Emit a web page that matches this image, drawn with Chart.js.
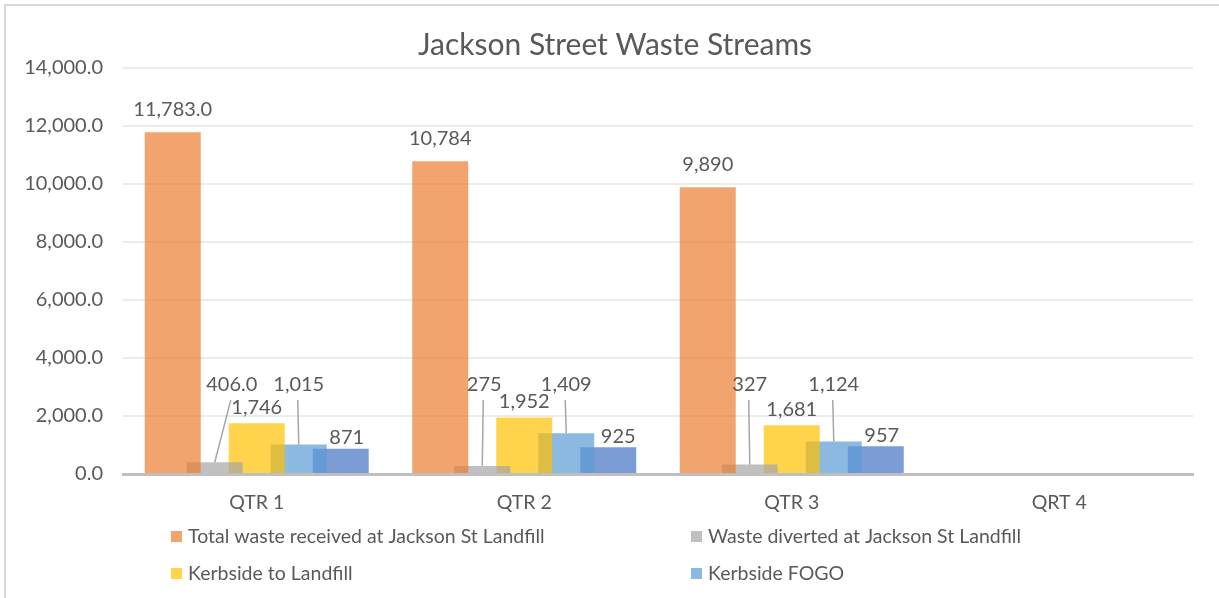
<!DOCTYPE html>
<html><head><meta charset="utf-8">
<script src="https://cdn.jsdelivr.net/npm/chart.js@4.4.1/dist/chart.umd.min.js"></script>
<style>
html,body{margin:0;padding:0;background:#fff;overflow:hidden}
#wrap{position:relative;width:1219px;height:598px}
</style></head><body>
<div id="wrap"><canvas id="c" width="1219" height="598"></canvas></div>
<script>
// ---- data ----
const categories = ['QTR 1', 'QTR 2', 'QTR 3', 'QRT 4'];
const totalWasteReceived = [11783, 10784, 9890, null];
const wasteDiverted = [406, 275, 327, null];
const kerbsideToLandfill = [1746, 1952, 1681, null];
const kerbsideFogo = [1015, 1409, 1124, null];
const kerbsideOther = [871, 925, 957, null];
const yTickValues = [0, 2000, 4000, 6000, 8000, 10000, 12000, 14000];
const seriesNames = [
  'Total waste received at Jackson St Landfill',
  'Waste diverted at Jackson St Landfill',
  'Kerbside to Landfill',
  'Kerbside FOGO',
  'Kerbside Recycling'
];
// decimals shown in each data label
const totalDecimals = [1, 0, 0, 0];
const divertedDecimals = [1, 0, 0, 0];
const plainDecimals = [0, 0, 0, 0];

const FONT = 'Lato';
const TXT = '#595959';
Chart.defaults.font.family = FONT;
Chart.defaults.color = TXT;

function fmt(v, d) {
  return v.toLocaleString('en-US', {minimumFractionDigits: d, maximumFractionDigits: d});
}

const framePlugin = {
  id: 'frame',
  afterLayout(chart) {
    // centre the title over the whole framed area
    if (chart.titleBlock) { chart.titleBlock.left += 37; }
  },
  beforeDraw(chart) {
    const ctx = chart.ctx;
    ctx.save();
    ctx.fillStyle = '#fff';
    ctx.fillRect(0, 0, chart.width, chart.height);
    ctx.strokeStyle = '#D9D9D9';
    ctx.lineWidth = 2;
    ctx.beginPath();
    ctx.moveTo(5, chart.height);
    ctx.lineTo(5, 5);
    ctx.lineTo(chart.width, 5);
    ctx.stroke();
    ctx.restore();
  }
};

const labelPlugin = {
  id: 'barLabels',
  afterDatasetsDraw(chart) {
    const ctx = chart.ctx;
    const ys = chart.scales.y;
    ctx.save();
    ctx.font = '20px ' + FONT;
    ctx.fillStyle = TXT;
    ctx.textAlign = 'center';
    ctx.textBaseline = 'middle';
    chart.data.datasets.forEach((ds, di) => {
      const meta = chart.getDatasetMeta(di);
      const st = ds.labelStyle;
      meta.data.forEach((bar, i) => {
        const v = ds.data[i];
        if (v == null) return;
        const text = fmt(v, ds.decimals[i]);
        const cx = bar.x + (st.dx ? st.dx[i] : 0);
        let cy;
        if (st.callout) {
          cy = ys.getPixelForValue(st.calloutAt);
          ctx.strokeStyle = '#A6A6A6';
          ctx.lineWidth = 1.5;
          ctx.beginPath();
          ctx.moveTo(cx - 1, cy + 16);
          ctx.lineTo(bar.x, bar.y);
          ctx.stroke();
        } else {
          cy = bar.y - st.offset;
        }
        ctx.fillText(text, cx, cy);
      });
    });
    ctx.restore();
  }
};

const legendPlugin = {
  id: 'customLegend',
  afterDraw(chart) {
    const ctx = chart.ctx;
    const cols = [171, 691];
    const rows = [537, 574];
    ctx.save();
    ctx.font = '19.5px ' + FONT;
    ctx.textBaseline = 'middle';
    ctx.textAlign = 'left';
    chart.data.datasets.forEach((ds, i) => {
      if (ds.hideInLegend) return;
      const x = cols[i % 2], y = rows[Math.floor(i / 2)];
      ctx.fillStyle = ds.backgroundColor;
      ctx.fillRect(x, y - 6, 11, 11);
      ctx.fillStyle = TXT;
      ctx.fillText(ds.label, x + 17, y);
    });
    ctx.restore();
  }
};

const common = {borderWidth: 0, categoryPercentage: 0.785, barPercentage: 1.333};

new Chart(document.getElementById('c'), {
  type: 'bar',
  data: {
    labels: categories,
    datasets: [
      Object.assign({label: seriesNames[0], data: totalWasteReceived, backgroundColor: 'rgba(237,125,49,0.7)',
        decimals: totalDecimals, labelStyle: {offset: 23}}, common),
      Object.assign({label: seriesNames[1], data: wasteDiverted, backgroundColor: 'rgba(165,165,165,0.7)',
        decimals: divertedDecimals, labelStyle: {callout: true, calloutAt: 3100, dx: [17, 2, 0, 0]}}, common),
      Object.assign({label: seriesNames[2], data: kerbsideToLandfill, backgroundColor: 'rgba(255,192,0,0.7)',
        decimals: plainDecimals, labelStyle: {offset: 16}}, common),
      Object.assign({label: seriesNames[3], data: kerbsideFogo, backgroundColor: 'rgba(91,155,213,0.7)',
        decimals: plainDecimals, labelStyle: {callout: true, calloutAt: 3100}}, common),
      Object.assign({label: seriesNames[4], data: kerbsideOther, backgroundColor: 'rgba(68,114,196,0.7)',
        decimals: plainDecimals, hideInLegend: true, labelStyle: {offset: 11, dx: [6, 10, 6, 0]}}, common)
    ]
  },
  options: {
    responsive: false,
    devicePixelRatio: 1,
    animation: false,
    layout: {padding: {left: 0, right: 26, top: 0, bottom: 74}},
    plugins: {
      legend: {display: false},
      tooltip: {enabled: false},
      title: {
        display: true,
        text: 'Jackson Street Waste Streams',
        color: TXT,
        font: {family: FONT, size: 30, weight: 'normal', lineHeight: 1.2},
        padding: {top: 27, bottom: 5}
      }
    },
    scales: {
      x: {
        grid: {display: false, drawTicks: false},
        border: {display: true, color: '#BFBFBF', width: 3},
        ticks: {font: {size: 19.5}, color: TXT, padding: 17},
        afterFit(scale) { scale.height = 50; }
      },
      y: {
        min: 0, max: 14000,
        afterBuildTicks(scale) { scale.ticks = yTickValues.map(v => ({value: v})); },
        grid: {color: '#EBEBEB', lineWidth: 2, drawTicks: false},
        border: {display: false},
        ticks: {font: {size: 20}, color: TXT, padding: 20, callback: v => fmt(v, 1)},
        afterFit(scale) { scale.width = 123; }
      }
    }
  },
  plugins: [framePlugin, labelPlugin, legendPlugin]
});
</script>
</body></html>
